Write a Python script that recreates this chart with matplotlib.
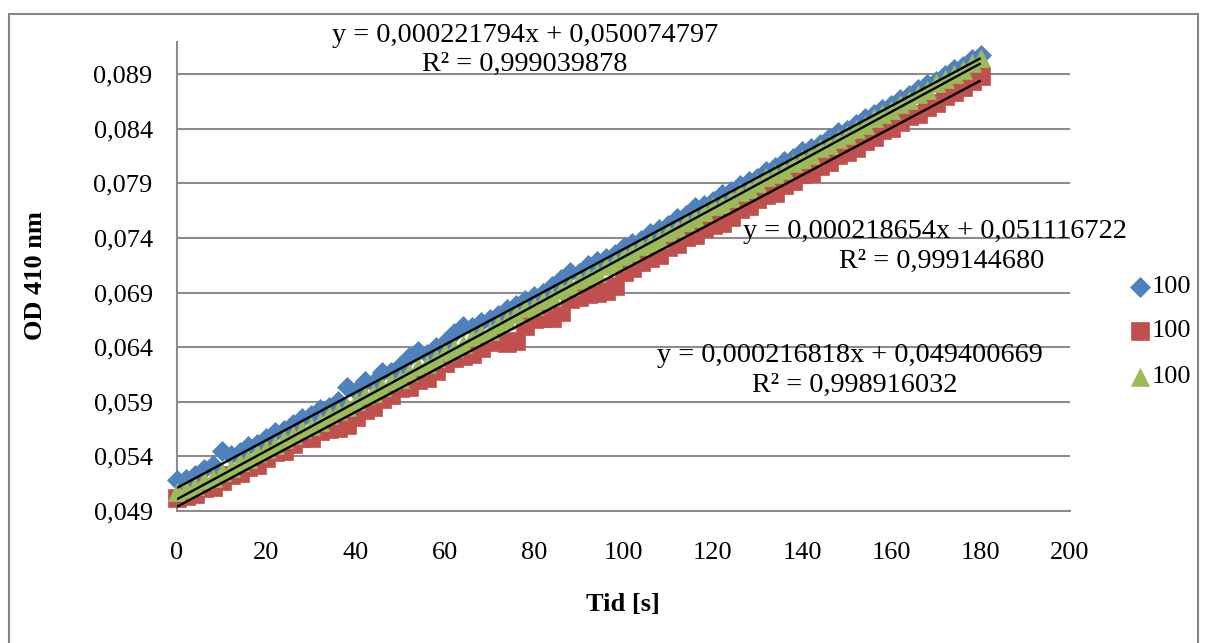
import matplotlib
matplotlib.use("Agg")
import matplotlib.pyplot as plt
from matplotlib.lines import Line2D
from matplotlib.patches import Rectangle
import numpy as np

plt.rcParams["font.family"] = ["Liberation Serif", "DejaVu Serif"]

# Sampling times [s]
time_s = [0, 2, 4, 6, 8, 10, 12, 14, 16, 18, 20, 22, 24, 26, 28, 30, 32, 34, 36, 38,
          40, 42, 44, 46, 48, 50, 52, 54, 56, 58, 60, 62, 64, 66, 68, 70, 72, 74, 76, 78,
          80, 82, 84, 86, 88, 90, 92, 94, 96, 98, 100, 102, 104, 106, 108, 110, 112, 114,
          116, 118, 120, 122, 124, 126, 128, 130, 132, 134, 136, 138, 140, 142, 144, 146,
          148, 150, 152, 154, 156, 158, 160, 162, 164, 166, 168, 170, 172, 174, 176, 178, 180]

# OD 410 nm readings, three replicates
od_blue = [0.05182, 0.05195, 0.05229, 0.05283, 0.05317, 0.05450, 0.05414, 0.05438, 0.05492, 0.05515,
           0.05569, 0.05623, 0.05646, 0.05700, 0.05754, 0.05778, 0.05831, 0.05855, 0.05909, 0.06033,
           0.05996, 0.06090, 0.06074, 0.06177, 0.06171, 0.06225, 0.06309, 0.06362, 0.06336, 0.06400,
           0.06444, 0.06527, 0.06591, 0.06585, 0.06629, 0.06662, 0.06696, 0.06750, 0.06783, 0.06837,
           0.06871, 0.06895, 0.06958, 0.07022, 0.07086, 0.07080, 0.07153, 0.07187, 0.07221, 0.07254,
           0.07318, 0.07352, 0.07386, 0.07449, 0.07483, 0.07517, 0.07581, 0.07614, 0.07688, 0.07702,
           0.07736, 0.07799, 0.07833, 0.07887, 0.07920, 0.07954, 0.08018, 0.08052, 0.08105, 0.08129,
           0.08193, 0.08227, 0.08260, 0.08314, 0.08368, 0.08392, 0.08445, 0.08499, 0.08533, 0.08586,
           0.08620, 0.08674, 0.08708, 0.08761, 0.08815, 0.08839, 0.08893, 0.08946, 0.08980, 0.09044,
           0.09077]

od_red = [0.05020, 0.05033, 0.05057, 0.05110, 0.05124, 0.05177, 0.05230, 0.05244, 0.05307, 0.05320,
          0.05384, 0.05437, 0.05450, 0.05514, 0.05567, 0.05571, 0.05634, 0.05647, 0.05661, 0.05684,
          0.05757, 0.05821, 0.05854, 0.05927, 0.05961, 0.06024, 0.06038, 0.06101, 0.06114, 0.06178,
          0.06251, 0.06304, 0.06318, 0.06341, 0.06394, 0.06448, 0.06461, 0.06435, 0.06458, 0.06591,
          0.06655, 0.06668, 0.06671, 0.06725, 0.06838, 0.06861, 0.06885, 0.06898, 0.06912, 0.06965,
          0.07088, 0.07122, 0.07185, 0.07218, 0.07242, 0.07315, 0.07348, 0.07412, 0.07425, 0.07489,
          0.07522, 0.07535, 0.07589, 0.07662, 0.07695, 0.07759, 0.07792, 0.07815, 0.07889, 0.07922,
          0.07986, 0.07999, 0.08062, 0.08096, 0.08159, 0.08192, 0.08226, 0.08289, 0.08322, 0.08386,
          0.08409, 0.08463, 0.08516, 0.08539, 0.08603, 0.08636, 0.08699, 0.08733, 0.08786, 0.08839,
          0.08883]

od_green = [0.05078, 0.05102, 0.05126, 0.05181, 0.05205, 0.05259, 0.05294, 0.05348, 0.05372, 0.05427,
            0.05471, 0.05505, 0.05560, 0.05594, 0.05648, 0.05683, 0.05717, 0.05782, 0.05816, 0.05850,
            0.05905, 0.05959, 0.05983, 0.06038, 0.06092, 0.06106, 0.06171, 0.06225, 0.06250, 0.06304,
            0.06358, 0.06393, 0.06427, 0.06491, 0.06526, 0.06550, 0.06614, 0.06649, 0.06703, 0.06757,
            0.06782, 0.06836, 0.06861, 0.06925, 0.06959, 0.07014, 0.07048, 0.07082, 0.07147, 0.07181,
            0.07235, 0.07270, 0.07324, 0.07358, 0.07393, 0.07457, 0.07491, 0.07546, 0.07580, 0.07635,
            0.07689, 0.07713, 0.07768, 0.07822, 0.07846, 0.07901, 0.07955, 0.07989, 0.08024, 0.08088,
            0.08122, 0.08157, 0.08221, 0.08256, 0.08310, 0.08344, 0.08399, 0.08433, 0.08497, 0.08532,
            0.08576, 0.08630, 0.08665, 0.08719, 0.08753, 0.08818, 0.08852, 0.08906, 0.08941, 0.09005,
            0.09050]

series_names = ["100", "100", "100"]

# Linear trendlines (y = a*x + b) with their R²
trend_slope = [0.000218654, 0.000216818, 0.000221794]
trend_intercept = [0.051116722, 0.049400669, 0.050074797]
trend_r2 = [0.999144680, 0.998916032, 0.999039878]

x_ticks = [0, 20, 40, 60, 80, 100, 120, 140, 160, 180, 200]
y_ticks = [0.049, 0.054, 0.059, 0.064, 0.069, 0.074, 0.079, 0.084, 0.089]

W, H = 1206, 643
fig = plt.figure(figsize=(W / 100, H / 100), dpi=100)

# outer chart border
fig.add_artist(Rectangle((8.5 / W, -0.01), (1198 - 8.5) / W, 1.01 - 13.5 / H,
                         transform=fig.transFigure, fill=False,
                         edgecolor="#868686", lw=1.5))

ax = fig.add_axes([177 / W, 1 - 511 / H, (1070 - 177) / W, (511 - 41.5) / H])

colors = ["#4F81BD", "#C0504D", "#9BBB59"]
markers = ["D", "s", "^"]
sizes = [10.0, 13.2, 13.4]
data = [od_blue, od_red, od_green]

for y, c, m, s in zip(data, colors, markers, sizes):
    ax.plot(time_s, y, linestyle="none", marker=m, markersize=s,
            markerfacecolor=c, markeredgecolor=c, markeredgewidth=0.5,
            clip_on=False, zorder=3)

t_range = np.array([min(time_s), max(time_s)])
for a, b in zip(trend_slope, trend_intercept):
    ax.plot(t_range, a * t_range + b, color="black", lw=1.7, zorder=5,
            solid_capstyle="butt")

ax.set_xlim(0, 200)
ax.set_ylim(0.049, 0.092)
ax.set_xticks(x_ticks)
ax.set_yticks(y_ticks)
ax.set_xticklabels([str(v) for v in x_ticks])
ax.set_yticklabels([f"{v:.3f}".replace(".", ",") for v in y_ticks])
ax.tick_params(axis="both", length=0, labelsize=19)
ax.tick_params(axis="x", pad=22.5)
ax.tick_params(axis="y", pad=17.5)

ax.grid(axis="y", color="#8c8c8c", lw=1.5)
ax.set_axisbelow(True)
for side in ("top", "right"):
    ax.spines[side].set_visible(False)
for side in ("left", "bottom"):
    ax.spines[side].set_color("#8c8c8c")
    ax.spines[side].set_linewidth(1.5)

fig.text(35 / W, 1 - 276 / H, "OD 410 nm", rotation=90, ha="center", va="center",
         fontsize=19, fontweight="bold")
fig.text(623 / W, 1 - 605 / H, "Tid [s]", ha="center", va="center",
         fontsize=19, fontweight="bold")


def fmt(v):
    return f"{v:.9f}".replace(".", ",")


# trendline equation labels (order: blue, red, green)
label_pos = [((935, 231), (942, 261)),
             ((850, 355), (855, 385)),
             ((525, 35), (525, 64))]
for a, b, r2, (p1, p2) in zip(trend_slope, trend_intercept, trend_r2, label_pos):
    fig.text(p1[0] / W, 1 - p1[1] / H, f"y = {fmt(a)}x + {fmt(b)}",
             ha="center", va="center", fontsize=20.3)
    fig.text(p2[0] / W, 1 - p2[1] / H, f"R² = {fmt(r2)}",
             ha="center", va="center", fontsize=20.3)

# legend
legend_y = [287, 331, 377]
for name, c, m, s, ly in zip(series_names, colors, markers, sizes, legend_y):
    fig.add_artist(Line2D([1139.5 / W], [1 - ly / H], transform=fig.transFigure,
                          linestyle="none", marker=m, markersize=s,
                          markerfacecolor=c, markeredgecolor=c, markeredgewidth=0.5))
    fig.text(1152 / W, 1 - ly / H, name, ha="left", va="center", fontsize=19)

fig.savefig("out.png", dpi=100)
